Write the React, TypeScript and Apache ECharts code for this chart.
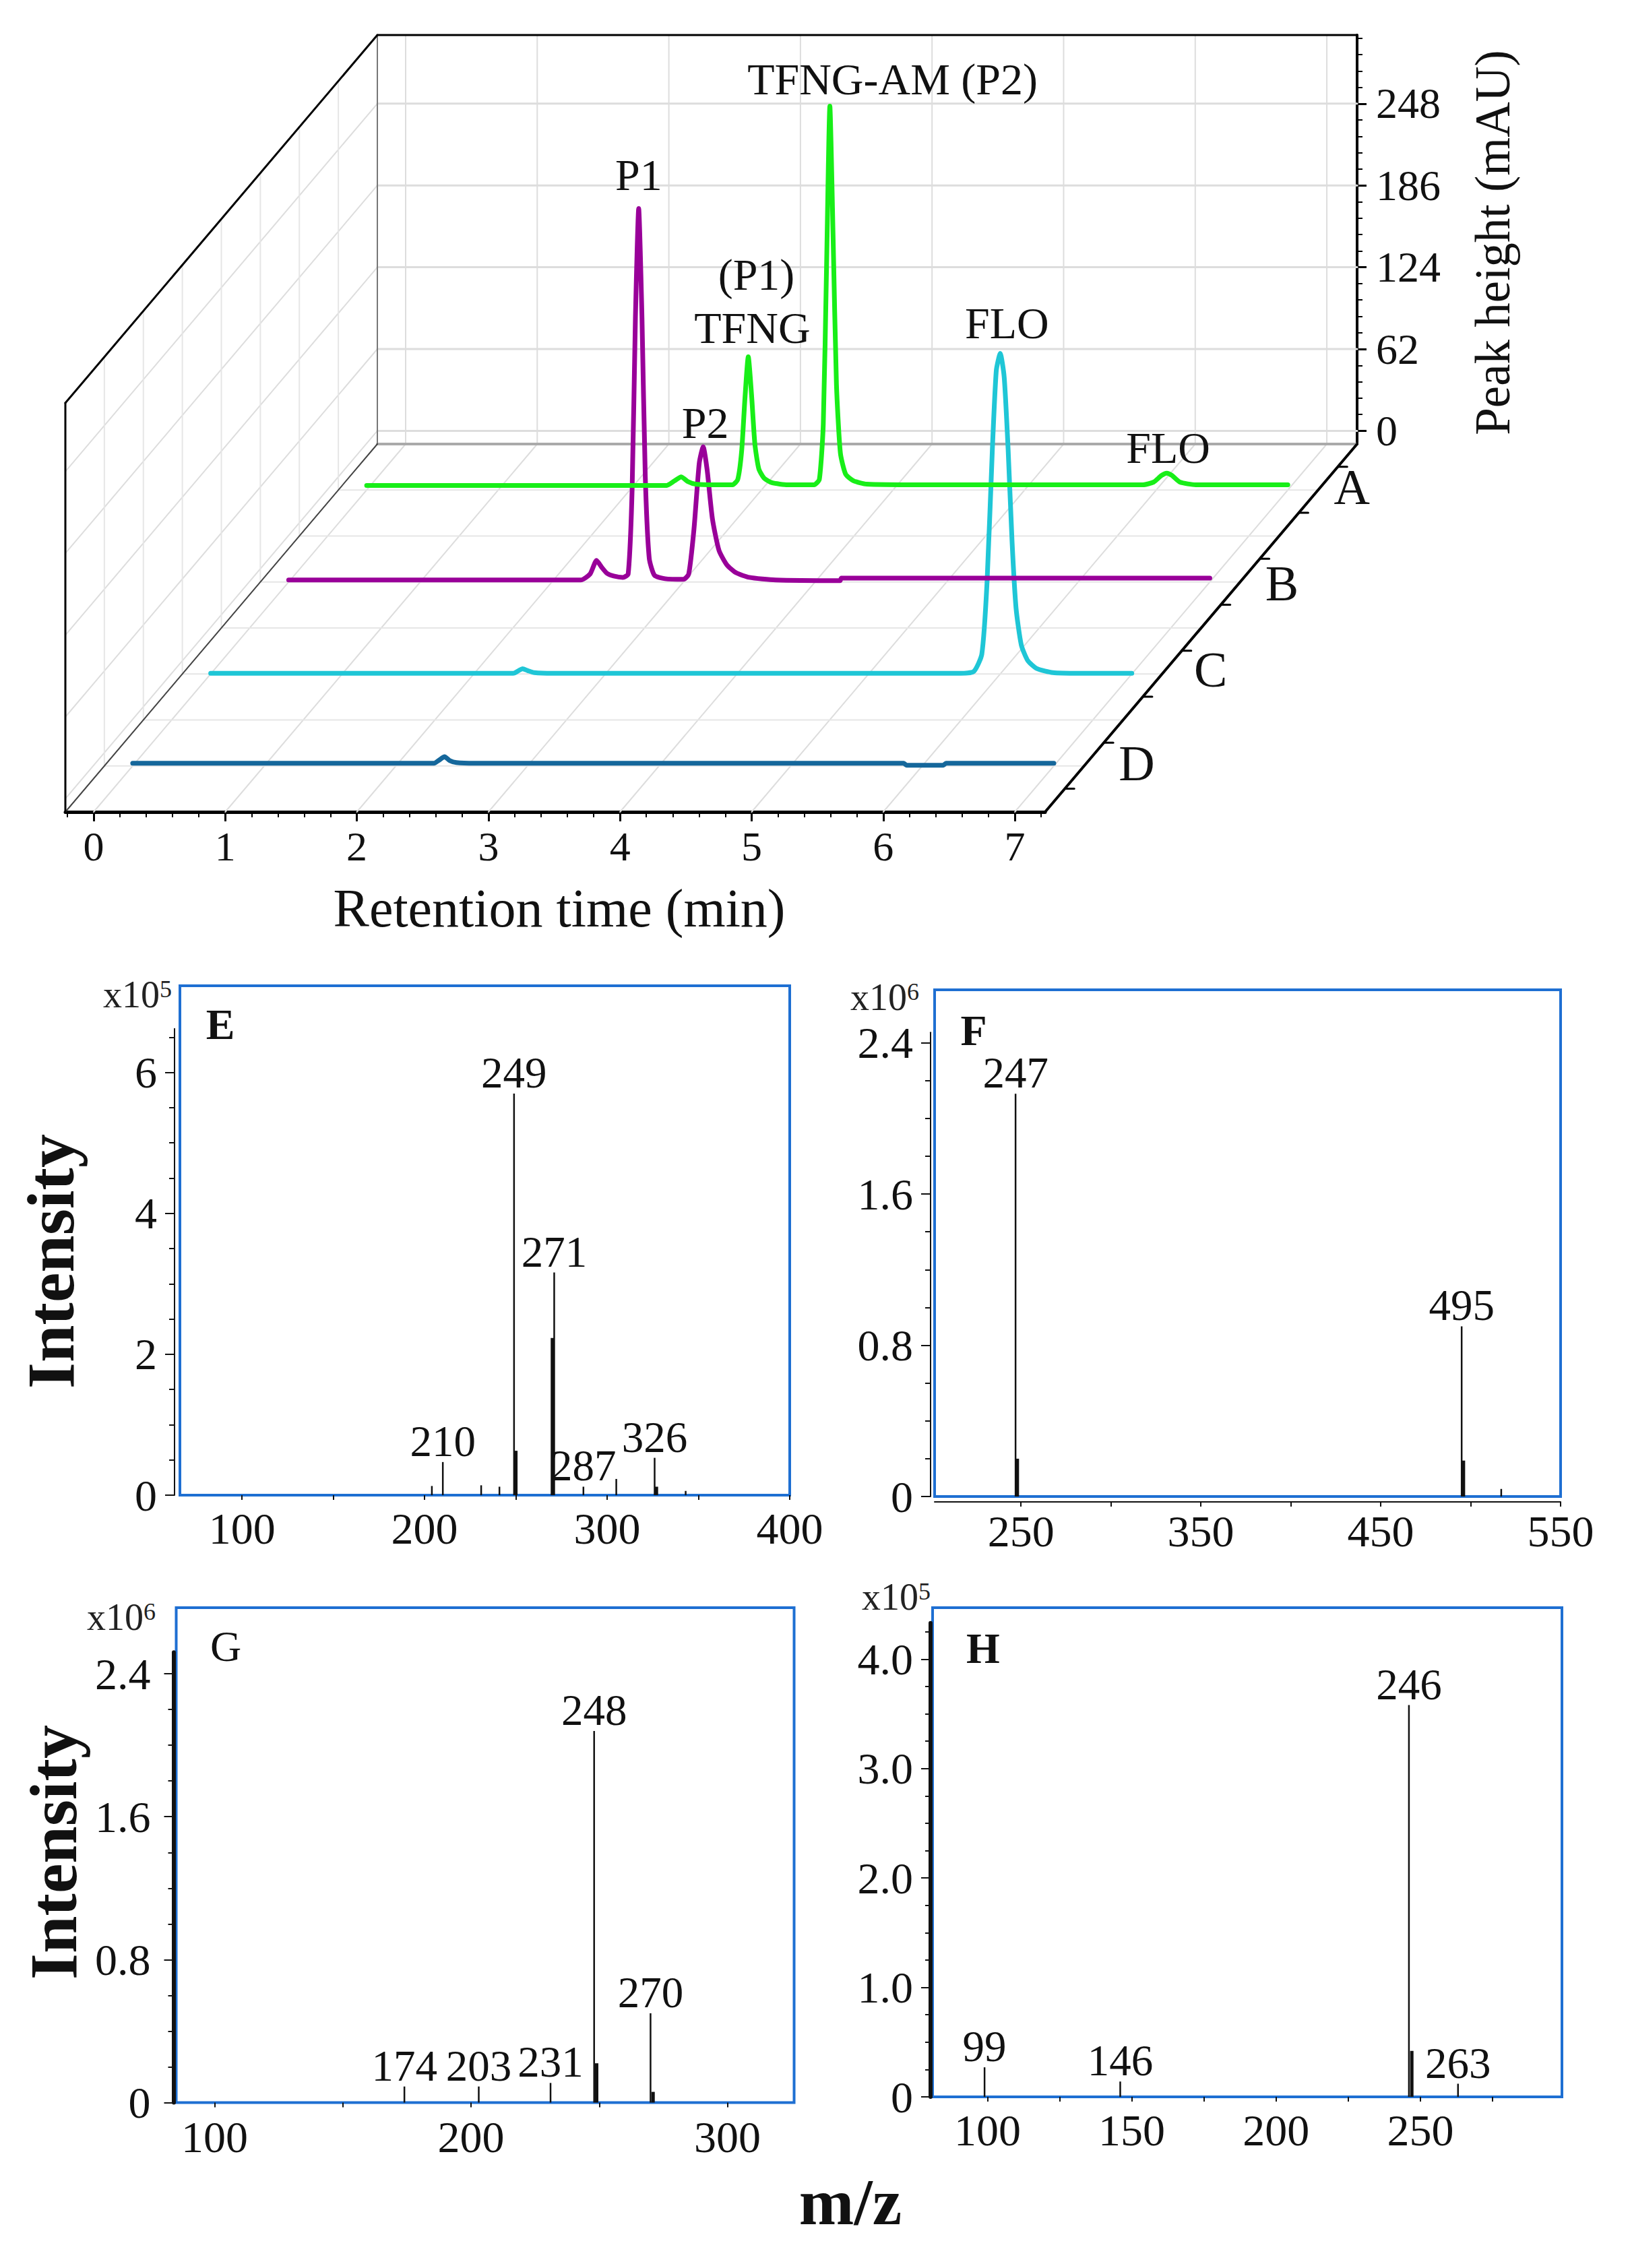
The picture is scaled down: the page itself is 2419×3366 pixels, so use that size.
import React, { useEffect, useRef } from "react";
import * as echarts from "echarts";

const SERIF = "'Liberation Serif', 'Times New Roman', serif";

// ---------------- Chromatograms (top) ----------------
const TIME_TICKS = [0, 1, 2, 3, 4, 5, 6, 7];
const HEIGHT_TICKS = [0, 62, 124, 186, 248];
const SAMPLES = ["A", "B", "C", "D"];
const SAMPLE_COLORS = ["#18ee18", "#990099", "#1fc6d6", "#15679b"];

// retention time (min), peak height (mAU)
const TRACE_A: [number, number][] = [
  [0.0, -6.5], [0.5, -6.5], [1.0, -6.5], [1.5, -6.5], [2.0, -6.5], [2.28, -6.5], [2.34, -3], [2.39, 0],
  [2.44, -3.5], [2.5, -5.5], [2.65, -6], [2.78, -6], [2.82, -2], [2.85, 20], [2.875, 60], [2.9, 91],
  [2.925, 62], [2.95, 25], [2.98, 6], [3.02, -1], [3.08, -4.5], [3.2, -6], [3.4, -6], [3.44, -2],
  [3.47, 40], [3.495, 160], [3.52, 281], [3.545, 180], [3.57, 70], [3.6, 18], [3.64, 2], [3.7, -3],
  [3.8, -5.5], [4.2, -6], [5.0, -6], [5.9, -6], [5.98, -4], [6.04, 1], [6.08, 2.8], [6.12, 1],
  [6.18, -4], [6.3, -6], [7.0, -6],
];
const TRACE_B: [number, number][] = [
  [0.0, -8.5], [0.5, -8.5], [1.0, -8.5], [1.5, -8.5], [2.0, -8.5], [2.22, -8.5], [2.29, -4], [2.34, 6.4],
  [2.38, 1], [2.42, -3.5], [2.47, -5.5], [2.54, -6.5], [2.58, -4], [2.61, 60], [2.635, 190], [2.66, 273],
  [2.685, 190], [2.71, 70], [2.74, 8], [2.78, -5], [2.86, -7.5], [3.0, -8], [3.04, -4], [3.08, 30],
  [3.12, 80], [3.15, 92.5], [3.18, 75], [3.22, 38], [3.27, 14], [3.33, 3], [3.4, -3], [3.5, -6.5],
  [3.7, -8.5], [4.19, -9], [4.2, -7], [5.0, -7], [6.0, -7], [7.0, -7],
];
const TRACE_C: [number, number][] = [
  [0.0, -9.5], [1.0, -9.5], [2.0, -9.5], [2.3, -9.5], [2.34, -7.5], [2.37, -6], [2.41, -7.5], [2.46, -9],
  [2.6, -9.5], [4.0, -9.5], [5.0, -9.5], [5.7, -9.5], [5.8, -8], [5.86, 5], [5.9, 60], [5.94, 160],
  [5.97, 220], [6.0, 233], [6.03, 215], [6.06, 160], [6.09, 90], [6.12, 40], [6.16, 12], [6.21, 0],
  [6.28, -6], [6.4, -9], [6.6, -9.5], [7.0, -9.5],
];
const TRACE_D: [number, number][] = [
  [0.0, -8], [1.0, -8], [2.0, -8], [2.29, -8], [2.33, -5.5], [2.37, -3], [2.41, -6], [2.46, -7.5],
  [2.6, -8], [4.0, -8], [5.86, -8], [5.88, -9.5], [6.16, -9.5], [6.18, -8], [7.0, -8],
];
const TRACES = [TRACE_A, TRACE_B, TRACE_C, TRACE_D];

// peak annotations: sample, retention time, height, text
const NOTES: { sample: string; t: number; v: number; text: string }[] = [
  { sample: "A", t: 3.52, v: 281, text: "TFNG-AM (P2)" },
  { sample: "A", t: 2.9, v: 91, text: "(P1)" },
  { sample: "A", t: 2.9, v: 91, text: "TFNG" },
  { sample: "A", t: 6.08, v: 2.8, text: "FLO" },
  { sample: "B", t: 2.66, v: 273, text: "P1" },
  { sample: "B", t: 3.15, v: 92.5, text: "P2" },
  { sample: "C", t: 6.0, v: 233, text: "FLO" },
];

// ---------------- Mass spectra (bottom) ----------------
// [m/z, intensity in units of the panel multiplier]
const E_LABELED: [number, number][] = [[210, 0.47], [249, 5.7], [271, 3.16], [287, 0.12], [326, 0.53]];
const E_MINOR: [number, number][] = [[204, 0.13], [231, 0.14], [241, 0.12], [305, 0.23], [343, 0.06]];
const E_ISO: [number, number][] = [[250, 0.63], [270, 2.23], [327, 0.12]];
const F_LABELED: [number, number][] = [[247, 2.13], [495, 0.9]];
const F_MINOR: [number, number][] = [[517, 0.04]];
const F_ISO: [number, number][] = [[248, 0.2], [496, 0.19]];
const G_LABELED: [number, number][] = [[174, 0.09], [203, 0.09], [231, 0.11], [248, 2.08], [270, 0.5]];
const G_MINOR: [number, number][] = [];
const G_ISO: [number, number][] = [[249, 0.22], [271, 0.06]];
const H_LABELED: [number, number][] = [[99, 0.27], [146, 0.14], [246, 3.58], [263, 0.12]];
const H_MINOR: [number, number][] = [];
const H_ISO: [number, number][] = [[247, 0.42]];

const E_Y_LABELS = [0, 2, 4, 6];
const F_Y_LABELS = [0, 0.8, 1.6, 2.4];
const G_Y_LABELS = [0, 0.8, 1.6, 2.4];
const H_Y_LABELS = [0, 1, 2, 3, 4];
const E_X_LABELS = [100, 200, 300, 400];
const F_X_LABELS = [250, 350, 450, 550];
const G_X_LABELS = [100, 200, 300];
const H_X_LABELS = [100, 150, 200, 250];
const E_X_TICKS = [100, 150, 200, 250, 300, 350, 400];
const F_X_TICKS = [250, 300, 350, 400, 450, 500, 550];
const G_X_TICKS = [100, 150, 200, 250, 300];
const H_X_TICKS = [100, 125, 150, 175, 200, 225, 250, 275];
const PANEL_NAMES = ["E", "F", "G", "H"];
const PANEL_EXPONENTS = [5, 6, 6, 5];

// ---------------- layout ----------------
const TOP = { fx: 89, ft: 590, w: 1454, h: 607, dx: 463, dy: -546 };
const XMIN = -0.215, XMAX = 7.23, YMIN = -10, YMAX = 300;
const SAMPLE_DEPTHS = [0.875, 0.625, 0.375, 0.125];
const DEPTH_LABEL_SHIFT = [[50, -4], [62, 2], [72, -6], [78, -4]];
const NOTE_OFFSETS = [[93, -40], [12, -122], [6, -43], [2, -38], [0, -50], [3, -36], [10, -45]];

const BLUE = "#1e6fd2";

const range = (a: number, b: number, s: number) => {
  const out: number[] = [];
  for (let v = a; v <= b + 1e-9; v += s) out.push(+v.toFixed(3));
  return out;
};

function buildOption() {
  const grids: any[] = [];
  const xAxes: any[] = [];
  const yAxes: any[] = [];
  const series: any[] = [];
  const graphics: any[] = [];

  const addGrid = (g: any, x: any, y: any) => {
    const gi = grids.length;
    grids.push({ outerBoundsMode: "none", containLabel: false, ...g });
    xAxes.push({ gridIndex: gi, ...x });
    yAxes.push({ gridIndex: gi, ...y });
    return { gi, xi: xAxes.length - 1, yi: yAxes.length - 1 };
  };
  const addX = (gi: number, x: any) => { xAxes.push({ gridIndex: gi, ...x }); return xAxes.length - 1; };
  const addY = (gi: number, y: any) => { yAxes.push({ gridIndex: gi, ...y }); return yAxes.length - 1; };
  const hidden = (min: number, max: number) => ({
    type: "value", show: false, min, max, splitLine: { show: false },
    axisLine: { show: false, onZero: false }, axisTick: { show: false }, axisLabel: { show: false },
  });

  // ---------- top 3D chromatogram ----------
  const gridAt = (d: number) => ({ left: TOP.fx + TOP.dx * d, top: TOP.ft + TOP.dy * d, width: TOP.w, height: TOP.h, show: false });

  const front = addGrid(
    gridAt(0),
    {
      type: "value", min: XMIN, max: XMAX, position: "bottom",
      axisLine: { show: true, onZero: false, lineStyle: { color: "#000", width: 5 } },
      axisTick: { show: true, inside: false, length: 14, customValues: TIME_TICKS, lineStyle: { color: "#000", width: 3 } },
      axisLabel: { show: true, customValues: TIME_TICKS, margin: 20, fontSize: 62, fontFamily: SERIF, color: "#111" },
      splitLine: { show: false },
    },
    hidden(YMIN, YMAX)
  );
  addX(front.gi, {
    type: "value", min: XMIN, max: XMAX, position: "bottom",
    axisLine: { show: false, onZero: false },
    axisTick: { show: true, length: 8, customValues: range(-0.2, 7.2, 0.2), lineStyle: { color: "#000", width: 2 } },
    axisLabel: { show: false }, splitLine: { show: false },
  });

  const back = addGrid(
    gridAt(1),
    hidden(XMIN, XMAX),
    {
      type: "value", min: YMIN, max: YMAX, position: "right",
      axisLine: { show: true, onZero: false, lineStyle: { color: "#000", width: 4 } },
      axisTick: { show: true, inside: false, length: 14, customValues: HEIGHT_TICKS, lineStyle: { color: "#000", width: 3 } },
      axisLabel: { show: true, customValues: HEIGHT_TICKS, margin: 28, fontSize: 64, fontFamily: SERIF, color: "#111" },
      splitLine: { show: false },
    }
  );
  addY(back.gi, {
    type: "value", min: YMIN, max: YMAX, position: "right",
    axisLine: { show: false, onZero: false },
    axisTick: { show: true, length: 8, customValues: range(0, 297.6, 12.4), lineStyle: { color: "#000", width: 2 } },
    axisLabel: { show: false }, splitLine: { show: false },
  });

  // frame: walls, floor, edges, depth labels
  series.push({
    type: "custom",
    xAxisIndex: front.xi,
    yAxisIndex: front.yi,
    data: [[0, 0]],
    silent: true,
    clip: false,
    z: 1,
    renderItem: (params: any, api: any) => {
      const P = (t: number, d: number, h: number) => {
        const c = api.coord([t, h]);
        return [c[0] + TOP.dx * d, c[1] + TOP.dy * d];
      };
      const L = (a: number[], b: number[], stroke: string, lineWidth: number) => ({
        type: "line",
        shape: { x1: a[0], y1: a[1], x2: b[0], y2: b[1] },
        style: { stroke, lineWidth, lineCap: "round" },
      });
      const grid = "#dddddd";
      const ch: any[] = [];
      const depthGrid = range(0.125, 0.875, 0.125);
      // floor
      TIME_TICKS.forEach((t) => ch.push(L(P(t, 0, YMIN), P(t, 1, YMIN), grid, 2)));
      depthGrid.forEach((d) => ch.push(L(P(XMIN, d, YMIN), P(XMAX, d, YMIN), "#e6e6e6", 2)));
      // back wall
      TIME_TICKS.forEach((t) => ch.push(L(P(t, 1, YMIN), P(t, 1, YMAX), grid, 2)));
      HEIGHT_TICKS.forEach((h) => ch.push(L(P(XMIN, 1, h), P(XMAX, 1, h), grid, 3)));
      // left wall
      HEIGHT_TICKS.forEach((h) => ch.push(L(P(XMIN, 0, h), P(XMIN, 1, h), grid, 2)));
      depthGrid.forEach((d) => ch.push(L(P(XMIN, d, YMIN), P(XMIN, d, YMAX), "#e6e6e6", 2)));
      // edges
      ch.push(L(P(XMIN, 1, YMIN), P(XMAX, 1, YMIN), "#aaaaaa", 4));
      ch.push(L(P(XMIN, 1, YMIN), P(XMIN, 1, YMAX), "#777777", 2));
      ch.push(L(P(XMIN, 0, YMIN), P(XMIN, 1, YMIN), "#444444", 2));
      ch.push(L(P(XMIN, 0, YMIN), P(XMIN, 0, YMAX), "#000", 3));
      ch.push(L(P(XMIN, 0, YMAX), P(XMIN, 1, YMAX), "#000", 3));
      ch.push(L(P(XMIN, 1, YMAX), P(XMAX, 1, YMAX), "#000", 3));
      ch.push(L(P(XMAX, 0, YMIN), P(XMAX, 1, YMIN), "#000", 4));
      // depth ticks
      range(0.0625, 0.9375, 0.125).forEach((d) => {
        const p = P(XMAX, d, YMIN);
        ch.push(L(p, [p[0] + 14, p[1]], "#000", 3));
      });
      // depth labels
      SAMPLES.forEach((s, i) => {
        const p = P(XMAX, SAMPLE_DEPTHS[i], YMIN);
        ch.push({
          type: "text", x: p[0] + DEPTH_LABEL_SHIFT[i][0], y: p[1] + DEPTH_LABEL_SHIFT[i][1],
          style: { text: s, fill: "#111", fontSize: 74, fontFamily: SERIF, align: "center", verticalAlign: "middle" },
        });
      });
      return { type: "group", children: ch };
    },
  });

  // traces (back sample drawn on top)
  for (let i = SAMPLES.length - 1; i >= 0; i--) {
    const g = addGrid(gridAt(SAMPLE_DEPTHS[i]), hidden(XMIN, XMAX), hidden(YMIN, YMAX));
    const notes = NOTES.map((n, k) => ({ n, k })).filter((o) => o.n.sample === SAMPLES[i]);
    series.push({
      type: "line",
      name: SAMPLES[i],
      xAxisIndex: g.xi,
      yAxisIndex: g.yi,
      data: TRACES[i],
      symbol: "none",
      showSymbol: false,
      smooth: 0.2,
      clip: false,
      silent: true,
      z: 10 + (SAMPLES.length - 1 - i),
      lineStyle: { color: SAMPLE_COLORS[i], width: 7, join: "round", cap: "round" },
      markPoint: {
        symbol: "circle",
        symbolSize: 1,
        itemStyle: { color: "rgba(0,0,0,0)" },
        silent: true,
        label: { show: true, position: "inside", color: "#111", fontSize: 66, fontFamily: SERIF },
        data: notes.map(({ n, k }) => ({
          coord: [n.t, n.v],
          label: { formatter: n.text, offset: NOTE_OFFSETS[k] },
        })),
      },
    });
  }

  graphics.push({
    type: "text", x: 822, y: 1340,
    style: { text: "Retention time (min)", fill: "#111", fontSize: 80, fontFamily: SERIF, align: "center", verticalAlign: "middle" },
  });
  graphics.push({
    type: "text", x: 2207, y: 352, rotation: Math.PI / 2,
    style: { text: "Peak height (mAU)", fill: "#111", fontSize: 73, fontFamily: SERIF, align: "center", verticalAlign: "middle" },
  });

  // ---------- bottom spectra ----------
  const panels = [
    { box: { left: 259, top: 1455, width: 905, height: 756 }, x: [66, 400], yMax: 7.23, axisMax: 6.62, axisShift: 8, axisWidth: 2,
      xLine: false, xOffset: 0, yLabelMargin: 26, xLabelMargin: 16, exp: [247, 1468], letter: [319, 1512], letterBold: true,
      labeled: E_LABELED, minor: E_MINOR, iso: E_ISO, yLabels: E_Y_LABELS, yMinor: range(0, 6.5, 0.5), xLabels: E_X_LABELS, xTicks: E_X_TICKS },
    { box: { left: 1379, top: 1461, width: 929, height: 752 }, x: [202, 550], yMax: 2.68, axisMax: 2.455, axisShift: 6, axisWidth: 2,
      xLine: true, xOffset: 8, yLabelMargin: 26, xLabelMargin: 10, exp: [1356, 1472], letter: [1437, 1521], letterBold: true,
      labeled: F_LABELED, minor: F_MINOR, iso: F_ISO, yLabels: F_Y_LABELS, yMinor: range(0, 2.4, 0.2), xLabels: F_X_LABELS, xTicks: F_X_TICKS },
    { box: { left: 253.5, top: 2378, width: 917, height: 734.5 }, x: [85, 326], yMax: 2.77, axisMax: 2.52, axisShift: 4, axisWidth: 6,
      xLine: false, xOffset: 0, yLabelMargin: 34, xLabelMargin: 18, exp: [223, 2392], letter: [327, 2435], letterBold: false,
      labeled: G_LABELED, minor: G_MINOR, iso: G_ISO, yLabels: G_Y_LABELS, yMinor: range(0, 2.4, 0.2), xLabels: G_X_LABELS, xTicks: G_X_TICKS },
    { box: { left: 1376, top: 2378, width: 934, height: 726 }, x: [81, 299], yMax: 4.47, axisMax: 4.33, axisShift: 3, axisWidth: 6,
      xLine: false, xOffset: 0, yLabelMargin: 26, xLabelMargin: 16, exp: [1373, 2362], letter: [1451, 2438], letterBold: true,
      labeled: H_LABELED, minor: H_MINOR, iso: H_ISO, yLabels: H_Y_LABELS, yMinor: range(0, 4.25, 0.25), xLabels: H_X_LABELS, xTicks: H_X_TICKS },
  ];

  panels.forEach((p, idx) => {
    const data = addGrid(
      { ...p.box, show: true, borderColor: BLUE, borderWidth: 4, backgroundColor: "transparent" },
      {
        type: "value", min: p.x[0], max: p.x[1], position: "bottom", offset: p.xOffset,
        axisLine: { show: p.xLine, onZero: false, lineStyle: { color: "#111", width: 2 } },
        axisTick: { show: true, inside: false, length: 7, customValues: p.xTicks, lineStyle: { color: "#111", width: 2 } },
        axisLabel: { show: true, customValues: p.xLabels, margin: p.xLabelMargin, fontSize: 66, fontFamily: SERIF, color: "#111" },
        splitLine: { show: false },
      },
      hidden(0, p.yMax)
    );
    const axH = (p.box.height * p.axisMax) / p.yMax;
    const axisGrid = addGrid(
      { left: p.box.left - p.axisShift, top: p.box.top + p.box.height - axH, width: 10, height: axH, show: false },
      hidden(0, 1),
      {
        type: "value", min: 0, max: p.axisMax, position: "left",
        axisLine: { show: true, onZero: false, lineStyle: { color: "#111", width: p.axisWidth } },
        axisTick: { show: true, inside: false, length: 14, customValues: p.yLabels, lineStyle: { color: "#111", width: 2 } },
        axisLabel: {
          show: true, customValues: p.yLabels, margin: p.yLabelMargin, fontSize: 66, fontFamily: SERIF, color: "#111",
          formatter: (v: number) => (idx === 3 ? (v === 0 ? "0" : v.toFixed(1)) : String(v)),
        },
        splitLine: { show: false },
      }
    );
    addY(axisGrid.gi, {
      type: "value", min: 0, max: p.axisMax, position: "left",
      axisLine: { show: false, onZero: false },
      axisTick: { show: true, length: 8, customValues: p.yMinor, lineStyle: { color: "#111", width: 2 } },
      axisLabel: { show: false }, splitLine: { show: false },
    });

    const stick = (arr: [number, number][], width: number, labeled: boolean) => ({
      type: "custom",
      xAxisIndex: data.xi,
      yAxisIndex: data.yi,
      data: arr,
      silent: true,
      clip: false,
      z: 5,
      renderItem: (params: any, api: any) => {
        const mz = api.value(0);
        const v = api.value(1);
        const a = api.coord([mz, 0]);
        const b = api.coord([mz, v]);
        const ch: any[] = [
          { type: "line", shape: { x1: a[0], y1: a[1], x2: b[0], y2: b[1] }, style: { stroke: "#111", lineWidth: width } },
        ];
        if (labeled) {
          ch.push({
            type: "text", x: b[0], y: b[1] - 31,
            style: { text: String(mz), fill: "#111", fontSize: 65, fontFamily: SERIF, align: "center", verticalAlign: "middle" },
          });
        }
        return { type: "group", children: ch };
      },
    });
    series.push(stick(p.minor, 2.5, false));
    series.push(stick(p.iso, 5, false));
    series.push(stick(p.labeled, 2.5, true));

    graphics.push({
      type: "text", x: p.exp[0], y: p.exp[1],
      style: {
        text: `{a|x10}{b|${PANEL_EXPONENTS[idx]}}`, align: "right", verticalAlign: "middle",
        rich: {
          a: { fontSize: 56, lineHeight: 52, fontFamily: SERIF, fill: "#222", color: "#222" },
          b: { fontSize: 36, lineHeight: 52, fontFamily: SERIF, fill: "#222", color: "#222", verticalAlign: "top", padding: [0, 0, 20, 0] },
        },
      },
    });
    graphics.push({
      type: "text", x: p.letter[0], y: p.letter[1],
      style: {
        text: PANEL_NAMES[idx], fill: "#111", fontSize: 64, fontFamily: SERIF,
        fontWeight: p.letterBold ? "bold" : "normal", align: "center", verticalAlign: "middle",
      },
    });
  });

  graphics.push({
    type: "text", x: 67, y: 1864, rotation: Math.PI / 2,
    style: { text: "Intensity", fill: "#111", fontSize: 100, fontWeight: "bold", fontFamily: SERIF, align: "center", verticalAlign: "middle" },
  });
  graphics.push({
    type: "text", x: 71, y: 2741, rotation: Math.PI / 2,
    style: { text: "Intensity", fill: "#111", fontSize: 100, fontWeight: "bold", fontFamily: SERIF, align: "center", verticalAlign: "middle" },
  });
  graphics.push({
    type: "text", x: 1254, y: 3260,
    style: { text: "m/z", fill: "#111", fontSize: 98, fontWeight: "bold", fontFamily: SERIF, align: "center", verticalAlign: "middle" },
  });

  return {
    animation: false,
    backgroundColor: "#ffffff",
    textStyle: { fontFamily: SERIF },
    grid: grids,
    xAxis: xAxes,
    yAxis: yAxes,
    series,
    graphic: { elements: graphics },
  };
}

export default function App() {
  const ref = useRef<HTMLDivElement | null>(null);
  useEffect(() => {
    if (!ref.current) return;
    const chart = echarts.init(ref.current, null, { renderer: "svg" });
    chart.setOption(buildOption() as any);
    return () => chart.dispose();
  }, []);
  return <div ref={ref} style={{ width: 2403, height: 3350 }} />;
}
